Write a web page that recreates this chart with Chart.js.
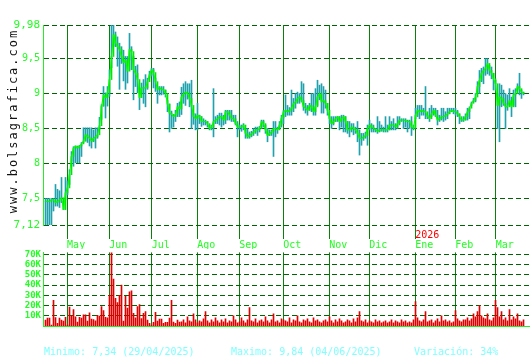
<!DOCTYPE html>
<html>
<head>
<meta charset="utf-8">
<script src="https://cdn.jsdelivr.net/npm/chart.js@4.4.1/dist/chart.umd.min.js"></script>
<style>
  body { margin: 0; background: #fff; width: 530px; height: 360px; overflow: hidden; position: relative; }
  canvas { position: absolute; left: 0; }
  #price { top: 0; }
  #volume { top: 245px; }
  .foot { position: absolute; top: 347px; font: 10px 'DejaVu Sans Mono', monospace; line-height: 10px; color: #80ffff; white-space: pre; }
</style>
</head>
<body>
<canvas id="price" width="530" height="249"></canvas>
<canvas id="volume" width="530" height="90"></canvas>
<div class="foot" style="left:44px">Minimo: 7,34 (29/04/2025)</div>
<div class="foot" style="left:231px">Maximo: 9,84 (04/06/2025)</div>
<div class="foot" style="left:414px">Variación: 34%</div>
<script>
// daily sessions, 14/04/2025 .. 03/2026
const close = [
  7.46, 7.46, 7.46, 7.48, 7.48, 7.44, 7.46, 7.48, 7.51, 7.34,
  7.58, 7.65, 7.84, 8.10, 8.22, 8.25, 8.22, 8.25, 8.28, 8.32,
  8.41, 8.38, 8.36, 8.32, 8.36, 8.38, 8.41, 8.54, 8.82, 8.98,
  8.94, 9.01, 9.20, 9.53, 9.84, 9.72, 9.67, 9.63, 9.53, 9.44,
  9.48, 9.32, 9.63, 9.60, 9.34, 9.29, 9.20, 8.94, 9.08, 9.08,
  9.08, 9.17, 9.27, 9.34, 9.30, 9.17, 9.06, 9.08, 9.06, 9.05,
  9.00, 8.85, 8.72, 8.70, 8.67, 8.70, 8.81, 8.78, 8.95, 9.00,
  9.02, 9.00, 8.93, 8.83, 8.67, 8.64, 8.69, 8.67, 8.60, 8.60,
  8.60, 8.57, 8.50, 8.52, 8.60, 8.62, 8.64, 8.67, 8.67, 8.62,
  8.74, 8.74, 8.69, 8.64, 8.64, 8.57, 8.52, 8.52, 8.52, 8.55,
  8.43, 8.38, 8.40, 8.43, 8.45, 8.48, 8.48, 8.50, 8.60, 8.57,
  8.48, 8.40, 8.43, 8.45, 8.50, 8.50, 8.48, 8.55, 8.65, 8.74,
  8.76, 8.74, 8.76, 8.79, 8.86, 8.88, 8.93, 8.95, 8.90, 8.81,
  8.79, 8.76, 8.83, 8.81, 8.74, 8.81, 8.95, 9.00, 8.88, 8.90,
  8.86, 8.76, 8.64, 8.57, 8.60, 8.64, 8.67, 8.60, 8.64, 8.67,
  8.60, 8.48, 8.48, 8.52, 8.50, 8.48, 8.43, 8.36, 8.36, 8.38,
  8.40, 8.50, 8.55, 8.52, 8.50, 8.48, 8.46, 8.48, 8.48, 8.48,
  8.48, 8.48, 8.55, 8.55, 8.55, 8.52, 8.57, 8.62, 8.62, 8.62,
  8.61, 8.60, 8.60, 8.52, 8.50, 8.69, 8.76, 8.74, 8.76, 8.74,
  8.74, 8.67, 8.64, 8.71, 8.76, 8.69, 8.62, 8.64, 8.67, 8.67,
  8.69, 8.71, 8.74, 8.76, 8.74, 8.74, 8.71, 8.67, 8.62, 8.62,
  8.67, 8.74, 8.79, 8.86, 8.90, 8.95, 9.10, 9.19, 9.29, 9.33,
  9.36, 9.43, 9.33, 9.29, 9.21, 9.14, 8.83, 8.95, 8.93, 8.86,
  8.81, 8.81, 8.90, 8.81, 8.98, 9.00, 9.10, 9.07, 9.02, 9.00
]
const high = [
  7.50, 7.50, 7.50, 7.50, 7.50, 7.70, 7.63, 7.61, 7.80, 7.46,
  7.80, 7.75, 7.91, 8.17, 8.24, 8.25, 8.24, 8.26, 8.30, 8.51,
  8.51, 8.51, 8.51, 8.51, 8.48, 8.51, 8.51, 8.66, 8.84, 9.10,
  9.01, 9.10, 9.34, 9.98, 9.98, 9.88, 9.81, 9.72, 9.67, 9.62,
  9.53, 9.53, 9.86, 9.67, 9.53, 9.39, 9.41, 9.08, 9.15, 9.20,
  9.27, 9.22, 9.32, 9.36, 9.36, 9.22, 9.10, 9.10, 9.10, 9.10,
  9.05, 8.90, 8.85, 8.75, 8.70, 8.76, 8.86, 8.88, 9.09, 9.14,
  9.17, 9.14, 9.14, 9.19, 8.72, 8.71, 8.86, 8.69, 8.67, 8.64,
  8.62, 8.60, 8.55, 8.55, 9.07, 8.67, 8.69, 8.72, 8.72, 8.69,
  8.76, 8.76, 8.76, 8.76, 8.69, 8.69, 8.60, 8.55, 8.55, 8.57,
  8.50, 8.50, 8.45, 8.46, 8.50, 8.52, 8.52, 8.53, 8.62, 8.62,
  8.55, 8.50, 8.48, 8.48, 8.60, 8.60, 8.52, 8.60, 8.69, 8.76,
  8.98, 8.83, 8.80, 9.05, 8.93, 9.00, 9.02, 9.00, 9.17, 9.14,
  8.86, 8.83, 8.86, 9.00, 9.00, 9.07, 9.19, 9.12, 9.14, 9.10,
  9.05, 8.86, 8.67, 8.67, 8.67, 8.67, 8.67, 8.67, 8.69, 8.69,
  8.67, 8.60, 8.60, 8.57, 8.57, 8.52, 8.60, 8.48, 8.43, 8.43,
  8.45, 8.55, 8.62, 8.57, 8.55, 8.50, 8.67, 8.60, 8.55, 8.52,
  8.67, 8.55, 8.67, 8.60, 8.64, 8.57, 8.67, 8.67, 8.64, 8.64,
  8.64, 8.62, 8.62, 8.67, 8.55, 8.79, 8.83, 8.83, 8.83, 8.79,
  9.10, 8.69, 8.79, 8.83, 8.79, 8.79, 8.76, 8.69, 8.79, 8.79,
  8.74, 8.79, 8.79, 8.79, 8.79, 8.79, 8.76, 8.71, 8.64, 8.67,
  8.71, 8.79, 8.81, 8.88, 8.93, 9.00, 9.17, 9.33, 9.36, 9.38,
  9.50, 9.50, 9.40, 9.38, 9.29, 9.19, 9.00, 9.14, 9.12, 9.05,
  9.00, 8.98, 9.07, 8.95, 9.05, 9.07, 9.14, 9.29, 9.05, 9.02
]
const low = [
  7.12, 7.12, 7.12, 7.12, 7.32, 7.39, 7.39, 7.37, 7.44, 7.34,
  7.48, 7.55, 7.70, 8.03, 7.96, 8.01, 8.01, 8.01, 8.10, 8.30,
  8.32, 8.30, 8.25, 8.22, 8.31, 8.22, 8.36, 8.49, 8.63, 8.82,
  8.65, 8.82, 8.96, 9.37, 9.68, 9.67, 9.39, 9.06, 9.43, 9.18,
  9.06, 9.15, 9.48, 9.34, 8.91, 9.10, 9.01, 8.77, 8.99, 8.86,
  8.81, 9.06, 9.22, 9.25, 9.08, 9.03, 8.86, 8.98, 8.98, 8.99,
  8.95, 8.74, 8.45, 8.50, 8.52, 8.60, 8.67, 8.67, 8.70, 8.86,
  8.83, 8.92, 8.81, 8.50, 8.56, 8.48, 8.48, 8.57, 8.53, 8.55,
  8.55, 8.52, 8.48, 8.48, 8.38, 8.57, 8.57, 8.55, 8.52, 8.55,
  8.57, 8.62, 8.62, 8.60, 8.60, 8.55, 8.38, 8.48, 8.46, 8.48,
  8.36, 8.36, 8.36, 8.38, 8.40, 8.43, 8.40, 8.45, 8.52, 8.52,
  8.43, 8.31, 8.40, 8.40, 8.10, 8.38, 8.43, 8.50, 8.52, 8.57,
  8.67, 8.69, 8.69, 8.69, 8.74, 8.79, 8.86, 8.86, 8.88, 8.76,
  8.72, 8.69, 8.76, 8.74, 8.69, 8.69, 8.83, 8.91, 8.72, 8.72,
  8.79, 8.69, 8.57, 8.50, 8.55, 8.60, 8.60, 8.48, 8.52, 8.45,
  8.45, 8.43, 8.38, 8.45, 8.41, 8.43, 8.31, 8.12, 8.26, 8.33,
  8.36, 8.26, 8.48, 8.45, 8.45, 8.45, 8.43, 8.45, 8.46, 8.45,
  8.45, 8.45, 8.48, 8.48, 8.48, 8.48, 8.50, 8.55, 8.60, 8.50,
  8.52, 8.45, 8.50, 8.40, 8.48, 8.64, 8.67, 8.64, 8.69, 8.69,
  8.64, 8.64, 8.60, 8.67, 8.69, 8.67, 8.55, 8.60, 8.62, 8.60,
  8.62, 8.64, 8.71, 8.74, 8.71, 8.69, 8.67, 8.57, 8.60, 8.60,
  8.62, 8.62, 8.64, 8.83, 8.88, 8.88, 9.00, 9.00, 9.17, 9.14,
  9.26, 9.28, 9.26, 9.21, 9.05, 9.05, 8.50, 8.31, 8.81, 8.83,
  8.50, 8.76, 8.83, 8.67, 8.83, 8.81, 9.05, 8.98, 8.93, 8.98
]
// thousands of shares
const volume = [
  5.7, 7.7, 7.7, 1, 25, 8.3, 2.5, 7.7, 5.7, 4.8,
  8.6, 1, 18.5, 9.6, 16, 9, 3.8, 8.6, 7.7, 11,
  11, 4.8, 12.8, 6.7, 6.4, 5, 10.5, 9.6, 19, 15,
  8.6, 8, 30, 72, 46, 27, 23, 30, 40, 4.8,
  29, 17.5, 33.5, 34.5, 12.4, 8, 19, 21, 7.3, 12.4,
  14, 5.7, 2.5, 1, 3.5, 13.4, 4.8, 6.7, 6.7, 2.5,
  3.5, 3.5, 7.7, 25, 3.8, 2.5, 5.7, 3.8, 4, 6,
  3, 9, 5, 4, 12, 6, 3, 5, 4, 7,
  14, 5, 3, 6, 4, 8, 5, 3, 6, 4,
  7, 3, 5, 4, 10, 6, 3, 4, 8, 5,
  3, 6, 18, 5, 4, 7, 3, 5, 6, 4,
  9, 5, 3, 6, 12, 4, 5, 3, 7, 6,
  5, 4, 8, 3, 6, 5, 10, 4, 3, 6,
  5, 7, 4, 3, 8, 5, 6, 4, 3, 5,
  6, 4, 9, 5, 3, 6, 4, 7, 5, 3,
  4, 6, 5, 3, 7, 4, 8, 14, 5, 4,
  6, 3, 5, 4, 3, 6, 4, 5, 3, 4,
  5, 3, 4, 6, 3, 5, 4, 3, 6, 4,
  5, 3, 4, 3, 6, 24, 8, 5, 4, 6,
  14, 4, 5, 6, 3, 5, 7, 4, 10, 5,
  6, 4, 5, 3, 4, 15, 7, 5, 4, 6,
  6, 8, 5, 7, 12, 9, 14, 20, 10, 8,
  7, 12, 6, 5, 8, 25, 18, 9, 14, 6,
  8, 5, 16, 6, 9, 7, 12, 5, 4, 6
]
const monthPos = [10.8, 31.9, 53.1, 75.9, 96.9, 118.9, 141.9, 161.9, 184.9, 204.9, 225.1]
const monthLabels = ['May', 'Jun', 'Jul', 'Ago', 'Sep', 'Oct', 'Nov', 'Dic', 'Ene', 'Feb', 'Mar']
const priceTicks = [7.12, 7.5, 8, 8.5, 9, 9.5, 9.98]
const volumeTicks = [10, 20, 30, 40, 50, 60, 70]

const FONT = "'DejaVu Sans Mono', monospace"
const LABEL = '#22ff22'
const DASHED = '#006400'
const MONTH = '#0a800a'
const X_MIN = -1.25
const X_MAX = 242.25

const idx = close.map((_, i) => i)

const sideText = {
  id: 'sideText',
  afterDraw(chart) {
    const ctx = chart.ctx
    ctx.save()
    ctx.translate(14, 121)
    ctx.rotate(-Math.PI / 2)
    ctx.font = '12px ' + FONT
    ctx.letterSpacing = '2px'
    ctx.fillStyle = '#111'
    ctx.textAlign = 'center'
    ctx.textBaseline = 'middle'
    ctx.fillText('www.bolsagrafica.com', 0, 0)
    ctx.restore()

    // year marker above January
    const x = chart.scales.x.getPixelForValue(monthPos[8])
    ctx.save()
    ctx.font = '10px ' + FONT
    ctx.fillStyle = '#ff0000'
    ctx.textAlign = 'left'
    ctx.textBaseline = 'middle'
    ctx.fillText('2026', x, 235)
    ctx.restore()
  },
}

const monthAxis = (showLabels) => ({
  type: 'linear',
  min: X_MIN,
  max: X_MAX,
  offset: false,
  afterBuildTicks: (scale) => {
    scale.ticks = monthPos.map((v) => ({ value: v }))
  },
  afterFit: (scale) => {
    scale.height = showLabels ? 24 : 9
  },
  grid: { offset: false, color: MONTH, drawTicks: showLabels, tickLength: 14 },
  border: { display: !showLabels, color: '#22ee22', width: 1 },
  ticks: {
    display: showLabels,
    autoSkip: false,
    maxRotation: 0,
    align: 'start',
    padding: 0,
    color: LABEL,
    font: { family: FONT, size: 10 },
    callback: (v, i) => monthLabels[i],
  },
})

new Chart(document.getElementById('price'), {
  data: {
    datasets: [
      {
        type: 'line',
        data: idx.map((i) => ({ x: i, y: close[i] })),
        borderColor: '#00ff00',
        borderWidth: 1,
        pointRadius: 0,
        order: 1,
      },
      {
        // body: previous close to close, on the wick's column
        type: 'bar',
        data: idx.map((i) => ({ x: i, y: [i > 0 ? close[i - 1] : close[i], close[i]] })),
        backgroundColor: '#00e600',
        barThickness: 1,
        grouped: false,
        order: 2,
      },
      {
        type: 'bar',
        data: idx.map((i) => ({ x: i, y: [low[i], high[i]] })),
        backgroundColor: '#1fa2ae',
        barThickness: 1,
        grouped: false,
        order: 3,
      },
    ],
  },
  options: {
    responsive: false,
    animation: false,
    events: [],
    layout: { padding: { top: 25, left: 0, right: 0, bottom: 0 } },
    plugins: { legend: { display: false }, tooltip: { enabled: false } },
    scales: {
      x: monthAxis(true),
      y: {
        type: 'linear',
        min: 7.12,
        max: 9.98,
        afterBuildTicks: (scale) => {
          scale.ticks = priceTicks.map((v) => ({ value: v }))
        },
        afterFit: (scale) => {
          scale.width = 43
        },
        grid: { color: DASHED, drawTicks: false },
        border: { color: '#22ee22', width: 1, dash: [5, 3] },
        ticks: {
          autoSkip: false,
          padding: 3,
          color: LABEL,
          font: (c) => ({ family: FONT, size: c.tick && (c.tick.value === 9.98 || c.tick.value === 7.12) ? 11 : 10 }),
          callback: (v) => String(v).replace('.', ','),
        },
      },
    },
  },
  plugins: [sideText],
})

new Chart(document.getElementById('volume'), {
  type: 'bar',
  data: {
    datasets: [
      {
        data: idx.map((i) => ({ x: i, y: volume[i] })),
        backgroundColor: '#e00000',
        barThickness: 1,
      },
    ],
  },
  options: {
    responsive: false,
    animation: false,
    events: [],
    layout: { padding: { top: 5, left: 0, right: 0, bottom: 0 } },
    plugins: { legend: { display: false }, tooltip: { enabled: false } },
    scales: {
      x: monthAxis(false),
      y: {
        type: 'linear',
        min: 0,
        max: 72,
        afterBuildTicks: (scale) => {
          scale.ticks = volumeTicks.map((v) => ({ value: v }))
        },
        afterFit: (scale) => {
          scale.width = 43
        },
        grid: { color: DASHED, drawTicks: false },
        border: { color: '#22ee22', width: 1, dash: [5, 3] },
        ticks: {
          autoSkip: false,
          padding: 2,
          color: LABEL,
          font: { family: FONT, size: 9, weight: 'bold' },
          callback: (v) => v + 'K',
        },
      },
    },
  },
})
</script>
</body>
</html>
